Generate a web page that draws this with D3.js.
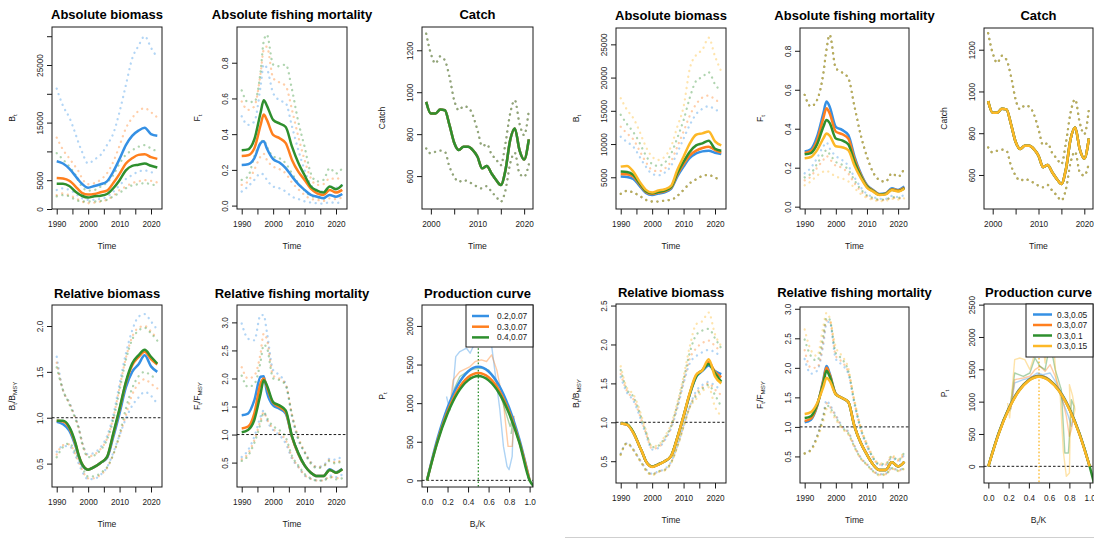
<!DOCTYPE html>
<html><head><meta charset="utf-8">
<script src="https://cdn.jsdelivr.net/npm/d3@7"></script>
<style>body{margin:0;background:#fff}svg{display:block;font-family:"Liberation Sans",Arial,Helvetica,sans-serif}</style>
</head><body><svg id="c" width="1094" height="538"></svg>
<script>
// ---------------- DATA ----------------
const years = [1990,1992,1994,1996,1997,1998,2000,2002,2004,2006,2008,2010,2012,2014,2016,2018,2020,2022];
const catchYears = [1999,2000,2001,2002,2003,2004,2005,2006,2007,2008,2009,2010,2011,2012,2013,2014,2015,2016,2017,2018,2019,2020,2021];
const bk = [0,0.1,0.2,0.3,0.4,0.5,0.6,0.7,0.8,0.9,1.0];
const bkG = [0,0.1,0.2,0.3,0.4,0.5,0.6,0.7,0.8,0.9,1.0,1.05];

const legendLeft = ["0.2,0.07","0.3,0.07","0.4,0.07"];
const legendRight = ["0.3,0.05","0.3,0.07","0.3,0.1","0.3,0.15"];

const timeTicks = [1990,1995,2000,2005,2010,2015,2020];
const timeLabels = [1990,2000,2010,2020];
const catchTicks = [2000,2005,2010,2015,2020];
const catchLabels = [2000,2010,2020];
const bkTicks = [0,0.2,0.4,0.6,0.8,1.0];

// Left group — absolute biomass
const BL_b_mid = [8300,7900,7000,5700,5000,4400,3700,4000,4300,4800,6500,8700,11100,12700,13600,14100,13000,12700];
const BL_b_hi  = [20900,17900,15900,13000,11400,10000,7900,8600,9400,11100,13100,16900,21500,26100,28300,30000,28000,26300];
const BL_b_lo  = [3300,3600,3300,2700,2200,1900,1600,1600,1800,2100,3000,4100,5200,5900,6500,6700,6400,6200];
const BL_o_mid = [5400,5300,4900,3900,3300,2800,2500,2600,2900,3200,4500,6100,7900,8800,9400,9500,9000,8700];
const BL_o_hi  = [12400,10300,8800,7300,6500,5400,4300,4500,5100,6200,8200,11000,14000,15800,17000,17500,16800,15900];
const BL_o_lo  = [2400,2700,2400,1900,1600,1300,1000,1100,1300,1600,2300,3300,3900,4500,4800,5000,4900,4600];
const BL_g_mid = [4400,4400,4000,3000,2600,2300,2000,2200,2300,2600,3600,5000,6700,7500,7700,7900,7500,7200];
const BL_g_hi  = [9700,8600,7400,5900,4900,3900,3200,3300,3900,4600,5900,7900,9400,10200,10800,11100,10500,10000];
const BL_g_lo  = [2200,2400,2200,1600,1400,1300,1300,1300,1400,1600,2200,2800,3600,4100,4300,4500,4300,4000];

// Left group — absolute fishing mortality
const FL_b_mid = [.228,.232,.265,.35,.36,.32,.26,.241,.21,.163,.12,.088,.06,.05,.041,.06,.05,.065];
const FL_b_hi  = [.5,.452,.47,.667,.79,.77,.63,.59,.574,.443,.312,.2,.116,.088,.079,.107,.1,.116];
const FL_b_lo  = [.079,.107,.144,.18,.172,.144,.107,.097,.079,.05,.037,.024,.017,.013,.011,.019,.015,.02];
const FL_o_mid = [.278,.282,.32,.45,.51,.48,.396,.378,.35,.256,.19,.144,.095,.069,.06,.088,.073,.088];
const FL_o_hi  = [.583,.536,.555,.74,.873,.89,.714,.69,.67,.536,.387,.256,.153,.116,.12,.153,.148,.172];
const FL_o_lo  = [.116,.135,.2,.275,.29,.256,.219,.204,.18,.129,.092,.06,.037,.032,.026,.041,.036,.047];
const FL_g_mid = [.31,.315,.37,.52,.59,.56,.48,.46,.44,.33,.24,.17,.107,.084,.073,.107,.092,.116];
const FL_g_hi  = [.645,.58,.58,.75,.92,.957,.79,.78,.79,.65,.47,.33,.18,.135,.144,.21,.18,.21];
const FL_g_lo  = [.144,.163,.275,.35,.368,.33,.275,.265,.237,.18,.125,.084,.054,.047,.039,.06,.05,.069];

// Catch (observed, shared by all runs)
const catchMid = [954,898,898,917,914,843,759,724,740,740,724,692,637,648,613,581,557,629,771,827,724,679,775];
const catchHi  = [1279,1184,1137,1171,1152,1073,962,914,933,927,890,819,743,752,705,679,652,756,898,962,851,795,914];
const catchLo  = [732,708,716,721,716,644,597,573,581,573,562,549,541,552,525,502,478,533,660,711,613,597,656];

// Left group — relative biomass
const RBL_b_mid = [.955,.93,.86,.69,.58,.49,.434,.464,.51,.56,.79,1.05,1.33,1.5,1.58,1.68,1.56,1.5];
const RBL_b_hi  = [1.665,1.3,1.17,1.0,.9,.75,.6,.62,.68,.8,1.03,1.37,1.7,1.95,2.1,2.13,2.05,1.96];
const RBL_b_lo  = [.63,.69,.69,.58,.5,.42,.33,.335,.38,.46,.62,.81,.99,1.13,1.22,1.28,1.24,1.15];
const RBL_o_mid = [.966,.96,.89,.71,.59,.5,.434,.464,.51,.57,.82,1.09,1.38,1.57,1.66,1.72,1.64,1.58];
const RBL_o_hi  = [1.6,1.3,1.16,.99,.89,.74,.58,.6,.66,.77,1.0,1.33,1.65,1.88,1.98,2.0,1.94,1.86];
const RBL_o_lo  = [.6,.7,.71,.6,.52,.44,.34,.34,.38,.45,.6,.8,1.03,1.25,1.37,1.42,1.37,1.32];
const RBL_g_mid = [.966,.966,.9,.72,.59,.5,.434,.464,.51,.573,.83,1.1,1.39,1.59,1.68,1.74,1.665,1.59];
const RBL_g_hi  = [1.55,1.3,1.15,.98,.88,.73,.57,.59,.65,.76,.98,1.3,1.63,1.85,1.95,1.98,1.92,1.84];
const RBL_g_lo  = [.57,.68,.72,.62,.55,.47,.36,.36,.4,.46,.6,.82,1.1,1.32,1.45,1.5,1.46,1.42];

// Left group — relative fishing mortality
const RFL_b_mid = [1.345,1.375,1.61,2.03,2.04,1.76,1.52,1.46,1.375,.96,.66,.45,.32,.26,.26,.38,.33,.39];
const RFL_b_hi  = [2.98,2.71,2.68,3.13,3.13,2.83,2.15,2.06,1.9,1.32,.9,.69,.51,.42,.45,.57,.55,.63];
const RFL_b_lo  = [.6,.72,.96,1.32,1.43,1.26,1.08,.99,.84,.57,.42,.27,.21,.18,.18,.27,.24,.29];
const RFL_o_mid = [1.11,1.14,1.375,1.91,2.0,1.85,1.565,1.49,1.4,.96,.66,.45,.32,.26,.26,.37,.32,.38];
const RFL_o_hi  = [2.2,2.0,2.05,2.45,2.8,2.7,2.05,2.0,1.9,1.35,.95,.7,.5,.42,.44,.55,.5,.57];
const RFL_o_lo  = [.56,.66,.9,1.25,1.4,1.28,1.1,1.02,.9,.6,.43,.28,.21,.18,.18,.25,.22,.25];
const RFL_g_mid = [1.04,1.08,1.26,1.73,1.97,1.88,1.58,1.52,1.43,.97,.67,.45,.32,.26,.26,.37,.32,.38];
const RFL_g_hi  = [2.05,1.85,1.9,2.3,2.6,2.55,2.0,1.97,1.88,1.35,.93,.68,.48,.4,.43,.53,.48,.55];
const RFL_g_lo  = [.53,.62,.85,1.2,1.4,1.3,1.15,1.08,.95,.62,.45,.3,.22,.18,.18,.24,.2,.22];

// Left group — production curves
const PL_b = [0,530,940,1235,1410,1470,1410,1235,940,530,0];
const PL_o = [0,500,890,1170,1335,1390,1335,1170,890,500,0];
const PL_g = [0,490,865,1135,1295,1350,1295,1135,865,490,0,-90];
const PLraw_b = [[0.19,1086],[0.22,914],[0.25,1150],[0.28,1603],[0.32,1668],[0.385,1711],[0.42,1647],[0.45,1733],[0.5,1776],[0.53,1754],[0.565,2078],[0.58,2170],[0.61,1948],[0.66,1431],[0.71,914],[0.745,440],[0.78,181],[0.8,138],[0.83,310],[0.84,698],[0.85,800]];
const PLraw_o = [[0.22,950],[0.255,1301],[0.32,1409],[0.42,1474],[0.47,1539],[0.53,1560],[0.58,1539],[0.63,1625],[0.68,1431],[0.745,1000],[0.79,440],[0.83,440],[0.85,828],[0.83,700]];
const PLraw_g = [[0.22,900],[0.27,1200],[0.32,1345],[0.42,1431],[0.52,1453],[0.6,1431],[0.68,1259],[0.76,914],[0.81,698],[0.84,828],[0.82,600]];

// Right group — absolute biomass
const BR_b_mid = [5100,5050,4750,3700,3150,2650,2350,2550,2750,3250,5100,6600,7900,8600,8900,9000,8700,8500];
const BR_o_mid = [5500,5450,5100,3950,3350,2800,2500,2700,2900,3400,5400,7000,8300,9000,9400,9600,9100,8700];
const BR_g_mid = [5850,5800,5350,4100,3500,2900,2600,2800,3000,3500,5600,7350,8850,9800,10100,10500,9300,9000];
const BR_y_mid = [6600,6700,5850,4350,3700,3100,2700,3000,3200,3700,6100,8100,10100,11400,11600,11900,10400,9800];
const BR_b_hi  = [11100,10300,9600,8100,7300,6600,5500,5300,5700,6700,8700,10800,12900,14500,15300,15700,15200,14800];
const BR_o_hi  = [12600,11600,10700,9000,8100,7300,6100,5900,6300,7400,9600,11900,14300,16000,17000,17300,16700,16100];
const BR_g_hi  = [14400,13000,11800,10200,9200,8300,7000,6700,7200,8500,10900,13600,17000,19500,20100,20800,19000,17900];
const BR_y_hi  = [16900,15150,13900,11900,10700,9600,8100,7600,8100,9600,12600,15600,21400,23400,24200,26000,23200,20900];
const BR_lo    = [2500,2950,2700,2200,1900,1600,1350,1350,1500,1600,2200,3100,4100,4700,5200,5350,4950,4600];

// Right group — absolute fishing mortality
const FR_b_mid = [.283,.295,.36,.48,.54,.514,.41,.394,.368,.257,.171,.111,.086,.065,.069,.094,.086,.103];
const FR_o_mid = [.275,.285,.34,.455,.505,.48,.385,.372,.35,.245,.165,.107,.083,.063,.067,.09,.083,.098];
const FR_g_mid = [.269,.275,.32,.41,.445,.43,.35,.34,.32,.23,.157,.103,.08,.061,.065,.087,.08,.095];
const FR_y_mid = [.248,.255,.29,.35,.375,.365,.31,.305,.29,.21,.148,.098,.077,.06,.063,.085,.078,.092];
const FR_hi    = [.574,.514,.548,.685,.805,.882,.711,.689,.66,.514,.368,.257,.175,.137,.128,.171,.154,.197];
const FR_b_lo  = [.171,.2,.25,.31,.33,.3,.26,.24,.21,.15,.1,.065,.05,.04,.04,.055,.05,.06];
const FR_o_lo  = [.135,.155,.2,.24,.26,.245,.21,.2,.17,.12,.08,.053,.04,.033,.034,.046,.042,.05];
const FR_g_lo  = [.15,.17,.22,.27,.29,.27,.23,.215,.19,.135,.09,.058,.045,.036,.037,.05,.045,.055];
const FR_y_lo  = [.11,.13,.16,.18,.185,.175,.155,.145,.13,.095,.065,.045,.035,.028,.03,.04,.036,.043];

// Right group — relative biomass
const RBR_b_mid = [.984,.97,.865,.69,.6,.5,.43,.46,.5,.565,.8,1.07,1.36,1.58,1.66,1.73,1.66,1.62];
const RBR_o_mid = [.984,.97,.87,.69,.6,.5,.43,.46,.5,.565,.8,1.08,1.37,1.6,1.67,1.77,1.65,1.58];
const RBR_g_mid = [.984,.975,.875,.69,.6,.5,.43,.46,.5,.565,.8,1.08,1.37,1.59,1.67,1.75,1.63,1.52];
const RBR_y_mid = [.984,.97,.864,.69,.6,.5,.427,.457,.5,.564,.8,1.08,1.38,1.61,1.67,1.81,1.59,1.5];
const RBR_b_hi  = [1.58,1.38,1.28,1.08,.96,.85,.65,.67,.77,.92,1.18,1.5,1.76,1.85,1.9,1.93,1.9,1.84];
const RBR_o_hi  = [1.62,1.4,1.3,1.1,.98,.86,.66,.68,.78,.93,1.2,1.52,1.82,1.95,2.02,2.05,1.98,1.9];
const RBR_g_hi  = [1.67,1.42,1.33,1.13,1.0,.88,.68,.7,.8,.95,1.22,1.55,1.9,2.12,2.18,2.2,2.08,1.95];
const RBR_y_hi  = [1.72,1.44,1.36,1.16,1.03,.9,.69,.71,.82,.97,1.25,1.59,1.98,2.26,2.3,2.41,2.13,1.98];
const RBR_b_lo  = [.6,.73,.65,.52,.46,.4,.34,.37,.4,.49,.7,.96,1.21,1.4,1.48,1.52,1.47,1.42];
const RBR_o_lo  = [.59,.73,.65,.52,.46,.39,.33,.37,.39,.48,.69,.95,1.2,1.37,1.45,1.5,1.42,1.35];
const RBR_g_lo  = [.585,.735,.65,.52,.455,.39,.33,.37,.39,.48,.69,.95,1.2,1.34,1.43,1.48,1.35,1.2];
const RBR_y_lo  = [.58,.73,.64,.51,.45,.38,.32,.36,.38,.47,.68,.94,1.19,1.3,1.4,1.45,1.2,1.08];

// Right group — relative fishing mortality
const RFR_b_mid = [1.077,1.12,1.35,1.8,2.03,1.91,1.56,1.49,1.42,1.01,.73,.53,.36,.27,.27,.4,.33,.41];
const RFR_o_mid = [1.1,1.14,1.36,1.78,2.0,1.89,1.56,1.49,1.42,1.01,.73,.53,.36,.27,.27,.4,.33,.41];
const RFR_g_mid = [1.15,1.18,1.38,1.74,1.95,1.86,1.55,1.49,1.42,1.01,.73,.53,.36,.27,.27,.4,.33,.41];
const RFR_y_mid = [1.22,1.25,1.4,1.68,1.83,1.78,1.55,1.49,1.42,1.01,.73,.53,.36,.27,.27,.4,.33,.41];
const RFR_b_hi  = [2.15,1.9,1.95,2.4,2.75,2.78,2.15,2.05,1.9,1.38,.95,.67,.46,.35,.35,.48,.42,.53];
const RFR_o_hi  = [2.3,2.0,2.0,2.45,2.8,2.8,2.2,2.1,1.92,1.4,.97,.68,.47,.36,.36,.49,.43,.55];
const RFR_g_hi  = [2.48,2.2,2.12,2.55,2.85,2.82,2.25,2.15,1.95,1.42,.98,.7,.48,.37,.37,.5,.44,.57];
const RFR_y_hi  = [2.65,2.3,2.2,2.7,2.93,2.85,2.35,2.2,2.0,1.45,1.0,.72,.5,.38,.38,.52,.45,.6];
const RFR_b_lo  = [.55,.62,.85,1.2,1.45,1.38,1.2,1.02,.92,.68,.48,.37,.26,.2,.21,.31,.27,.31];
const RFR_o_lo  = [.55,.61,.84,1.18,1.4,1.35,1.18,1.0,.9,.67,.47,.36,.25,.19,.2,.3,.26,.3];
const RFR_g_lo  = [.55,.61,.83,1.16,1.37,1.33,1.16,.99,.89,.66,.47,.36,.25,.19,.2,.3,.26,.3];
const RFR_y_lo  = [.55,.6,.8,1.1,1.3,1.27,1.12,.97,.87,.65,.46,.35,.24,.18,.19,.29,.25,.29];

// Right group — production curves
const PR_b = [0,505,895,1175,1340,1400,1340,1175,895,505,0];
const PR_o = [0,500,890,1170,1335,1395,1335,1170,890,500,0];
const PR_g = [0,500,885,1165,1330,1390,1330,1165,885,500,0,-300];
const PR_y = [0,495,880,1160,1325,1385,1325,1160,880,495,0];
const PRraw_b = [[0.22,880],[0.26,1289],[0.345,1340],[0.41,1366],[0.48,1443],[0.54,1418],[0.61,1443],[0.67,1289],[0.74,979],[0.79,773],[0.82,619],[0.84,825]];
const PRraw_o = [[0.22,880],[0.26,1340],[0.345,1366],[0.41,1392],[0.46,1495],[0.51,1546],[0.56,1469],[0.61,1572],[0.66,1392],[0.72,1108],[0.77,773],[0.8,464],[0.82,567],[0.84,773]];
const PRraw_g = [[0.21,850],[0.26,1443],[0.345,1392],[0.41,1443],[0.46,1675],[0.51,1546],[0.56,1495],[0.61,1907],[0.66,1495],[0.72,1186],[0.755,206],[0.79,206],[0.805,567],[0.82,1031],[0.845,928],[0.83,750]];
const PRraw_y = [[0.19,979],[0.21,750],[0.23,1100],[0.26,1649],[0.31,1675],[0.36,1649],[0.41,1495],[0.44,1649],[0.48,1856],[0.53,2010],[0.56,1598],[0.6,2371],[0.625,2320],[0.67,1340],[0.71,1082],[0.74,232],[0.77,-155],[0.8,-103],[0.81,773],[0.8,1263],[0.83,1100],[0.855,876],[0.83,670]];

// ---------------- DRAWING ----------------
const COL = {b:'#3590E4', o:'#FF7F1E', g:'#2E8F2E', y:'#FDB827'};
const svg = d3.select('#c');
const INK = '#1a1a1a';
let clipN = 0;

function rich(textSel, parts, size) {
  parts.forEach((p, i) => {
    const t = textSel.append('tspan').text(p[0]);
    if (p[1]) { t.attr('font-size', size*0.72).attr('dy', size*0.28); }
    else if (i > 0 && parts[i-1][1]) { t.attr('dy', -size*0.28); }
  });
}

function drawPanel(p) {
  const [L, T, R, B] = p.box;
  const x = d3.scaleLinear().domain(p.xd).range([L, R]);
  const y = d3.scaleLinear().domain(p.yd).range([B, T]);
  const id = 'clip' + (clipN++);
  svg.append('clipPath').attr('id', id).append('rect')
    .attr('x', L).attr('y', T).attr('width', R-L).attr('height', B-T);
  const plot = svg.append('g').attr('clip-path', `url(#${id})`);

  (p.hline || []).forEach(v => plot.append('line').attr('x1', L).attr('x2', R)
    .attr('y1', y(v)).attr('y2', y(v)).attr('stroke', INK).attr('stroke-width', 1)
    .attr('stroke-dasharray', '2.6,2'));
  (p.vline || []).forEach(v => plot.append('line').attr('x1', x(v.x)).attr('x2', x(v.x))
    .attr('y1', T).attr('y2', B).attr('stroke', v.col).attr('stroke-width', 1.3)
    .attr('stroke-dasharray', '1.6,2'));

  const lineTS = (xs) => d3.line().x((d,i)=>x(xs[i])).y(d=>y(d)).curve(d3.curveMonotoneX);
  const linePair = d3.line().x(d=>x(d[0])).y(d=>y(d[1])).curve(d3.curveLinear);

  (p.ci || []).forEach(s => plot.append('path').datum(s.v).attr('d', lineTS(s.x))
    .attr('fill','none').attr('stroke', COL[s.c]).attr('stroke-opacity', 0.38)
    .attr('stroke-width', 2.3).attr('stroke-linecap','round').attr('stroke-dasharray','0.1,5.6'));
  (p.raw || []).forEach(s => plot.append('path').datum(s.v).attr('d', linePair)
    .attr('fill','none').attr('stroke', COL[s.c]).attr('stroke-opacity', 0.4)
    .attr('stroke-width', 1.4).attr('stroke-linejoin','round'));
  (p.mid || []).forEach(s => plot.append('path').datum(s.v).attr('d', lineTS(s.x))
    .attr('fill','none').attr('stroke', COL[s.c]).attr('stroke-width', 2.5)
    .attr('stroke-linejoin','round'));

  svg.append('rect').attr('x', L).attr('y', T).attr('width', R-L).attr('height', B-T)
    .attr('fill','none').attr('stroke', INK).attr('stroke-width', 1);

  const gx = svg.append('g').attr('transform', `translate(0,${B})`)
    .call(d3.axisBottom(x).tickValues(p.xt).tickSize(5.5).tickSizeOuter(0)
      .tickFormat(v => p.xl.includes(v) ? p.xf(v) : ''));
  gx.select('.domain').remove();
  gx.selectAll('line').attr('stroke', INK);
  gx.selectAll('text').attr('y', 17.5).attr('dy', 0).attr('font-size', 8.2).attr('fill', INK);
  gx.attr('font-family', null);

  const gy = svg.append('g').attr('transform', `translate(${L},0)`)
    .call(d3.axisLeft(y).tickValues(p.yt).tickSize(5).tickSizeOuter(0)
      .tickFormat(v => p.yl.includes(v) ? p.yf(v) : ''));
  gy.select('.domain').remove();
  gy.selectAll('line').attr('stroke', INK);
  gy.selectAll('text').attr('transform','rotate(-90)').attr('text-anchor','middle')
    .attr('x', 0).attr('y', -9.5).attr('dy', 0).attr('font-size', 8.2).attr('fill', INK);
  gy.attr('font-family', null);

  svg.append('text').attr('x', (L+R)/2).attr('y', p.ty).attr('text-anchor','middle')
    .attr('font-size', 13).attr('font-weight','bold').attr('fill','#000').text(p.title);
  const xt = svg.append('text').attr('x', (L+R)/2).attr('y', B + 40).attr('text-anchor','middle')
    .attr('font-size', 8.6).attr('fill', INK);
  rich(xt, p.xtitle, 8.6);
  const yt = svg.append('text').attr('transform', `translate(${L-37},${(T+B)/2}) rotate(-90)`)
    .attr('text-anchor','middle').attr('font-size', 8.6).attr('fill', INK);
  rich(yt, p.ytitle, 8.6);

  if (p.legend) {
    const lg = p.legend;
    svg.append('rect').attr('x', lg.x0).attr('y', T).attr('width', R - lg.x0).attr('height', lg.y1 - T)
      .attr('fill','#fff').attr('stroke', INK).attr('stroke-width', 1);
    lg.labels.forEach((lab, i) => {
      const yy = lg.r0 + i*lg.dy;
      svg.append('line').attr('x1', lg.l0).attr('x2', lg.l1).attr('y1', yy).attr('y2', yy)
        .attr('stroke', COL[lg.cols[i]]).attr('stroke-width', 2.5);
      svg.append('text').attr('x', lg.tx).attr('y', yy + 3).attr('font-size', 8.4)
        .attr('fill', INK).text(lab);
    });
  }
}

const fInt = d => String(d);
const f1 = d3.format('.1f');
const TSX = [1988.5, 2023.5];
const CX = [1998.1, 2021.9];
const tTime = [['Time']];

const ci3 = (b,o,g) => [{c:'b',x:years,v:b[0]},{c:'b',x:years,v:b[1]},{c:'o',x:years,v:o[0]},{c:'o',x:years,v:o[1]},{c:'g',x:years,v:g[0]},{c:'g',x:years,v:g[1]}];

const panels = [
  {box:[52,27,162,209], xd:TSX, yd:[0,31600], title:'Absolute biomass', ty:18.5,
   xt:timeTicks, xl:timeLabels, xf:fInt, yt:[0,5000,10000,15000,20000,25000,30000], yl:[0,5000,15000,25000], yf:fInt,
   xtitle:tTime, ytitle:[['B'],['t',1]],
   ci: ci3([BL_b_hi,BL_b_lo],[BL_o_hi,BL_o_lo],[BL_g_hi,BL_g_lo]),
   mid:[{c:'b',x:years,v:BL_b_mid},{c:'o',x:years,v:BL_o_mid},{c:'g',x:years,v:BL_g_mid}]},
  {box:[237,27,347,209], xd:TSX, yd:[-0.019,1.0], title:'Absolute fishing mortality', ty:18.5,
   xt:timeTicks, xl:timeLabels, xf:fInt, yt:[0,0.2,0.4,0.6,0.8], yl:[0,0.2,0.4,0.6,0.8], yf:f1,
   xtitle:tTime, ytitle:[['F'],['t',1]],
   ci: ci3([FL_b_hi,FL_b_lo],[FL_o_hi,FL_o_lo],[FL_g_hi,FL_g_lo]),
   mid:[{c:'b',x:years,v:FL_b_mid},{c:'o',x:years,v:FL_o_mid},{c:'g',x:years,v:FL_g_mid}]},
  {box:[422,27,533,209], xd:CX, yd:[443,1311], title:'Catch', ty:18.5,
   xt:catchTicks, xl:catchLabels, xf:fInt, yt:[600,800,1000,1200], yl:[600,800,1000,1200], yf:fInt,
   xtitle:tTime, ytitle:[['Catch']],
   ci:[{c:'b',x:catchYears,v:catchHi},{c:'o',x:catchYears,v:catchHi},{c:'g',x:catchYears,v:catchHi},
       {c:'b',x:catchYears,v:catchLo},{c:'o',x:catchYears,v:catchLo},{c:'g',x:catchYears,v:catchLo}],
   mid:[{c:'b',x:catchYears,v:catchMid},{c:'o',x:catchYears,v:catchMid},{c:'g',x:catchYears,v:catchMid}]},
  {box:[52,305,162,487], xd:TSX, yd:[0.245,2.229], title:'Relative biomass', ty:297.5,
   xt:timeTicks, xl:timeLabels, xf:fInt, yt:[0.5,1.0,1.5,2.0], yl:[0.5,1.0,1.5,2.0], yf:f1,
   xtitle:tTime, ytitle:[['B'],['t',1],['/B'],['MSY',1]], hline:[1.0],
   ci: ci3([RBL_b_hi,RBL_b_lo],[RBL_o_hi,RBL_o_lo],[RBL_g_hi,RBL_g_lo]),
   mid:[{c:'b',x:years,v:RBL_b_mid},{c:'o',x:years,v:RBL_o_mid},{c:'g',x:years,v:RBL_g_mid}]},
  {box:[237,305,347,487], xd:TSX, yd:[0.065,3.31], title:'Relative fishing mortality', ty:297.5,
   xt:timeTicks, xl:timeLabels, xf:fInt, yt:[0.5,1.0,1.5,2.0,2.5,3.0], yl:[0.5,1.0,1.5,2.0,2.5,3.0], yf:f1,
   xtitle:tTime, ytitle:[['F'],['t',1],['/F'],['MSY',1]], hline:[1.0],
   ci: ci3([RFL_b_hi,RFL_b_lo],[RFL_o_hi,RFL_o_lo],[RFL_g_hi,RFL_g_lo]),
   mid:[{c:'b',x:years,v:RFL_b_mid},{c:'o',x:years,v:RFL_o_mid},{c:'g',x:years,v:RFL_g_mid}]},
  {box:[422,305,533,487], xd:[-0.049,1.033], yd:[-86,2271], title:'Production curve', ty:297.5,
   xt:bkTicks, xl:bkTicks, xf:f1, yt:[0,500,1000,1500,2000], yl:[0,500,1000,1500,2000], yf:fInt,
   xtitle:[['B'],['t',1],['/K']], ytitle:[['P'],['t',1]], hline:[0], vline:[{x:0.5,col:COL.g}],
   raw:[{c:'b',v:PLraw_b},{c:'o',v:PLraw_o},{c:'g',v:PLraw_g}],
   mid:[{c:'b',x:bk,v:PL_b},{c:'o',x:bk,v:PL_o},{c:'g',x:bkG,v:PL_g}],
   legend:{x0:466, y1:347, l0:472, l1:489, tx:497, r0:316, dy:10.7, labels:legendLeft, cols:['b','o','g']}},
  {box:[616,28,726,209], xd:TSX, yd:[226,27460], title:'Absolute biomass', ty:19.5,
   xt:timeTicks, xl:timeLabels, xf:fInt, yt:[5000,10000,15000,20000,25000], yl:[5000,10000,15000,20000,25000], yf:fInt,
   xtitle:tTime, ytitle:[['B'],['t',1]],
   ci:[{c:'b',x:years,v:BR_b_hi},{c:'o',x:years,v:BR_o_hi},{c:'g',x:years,v:BR_g_hi},{c:'y',x:years,v:BR_y_hi},
       {c:'b',x:years,v:BR_lo},{c:'o',x:years,v:BR_lo},{c:'g',x:years,v:BR_lo},{c:'y',x:years,v:BR_lo}],
   mid:[{c:'b',x:years,v:BR_b_mid},{c:'o',x:years,v:BR_o_mid},{c:'g',x:years,v:BR_g_mid},{c:'y',x:years,v:BR_y_mid}]},
  {box:[800,28,909,209], xd:TSX, yd:[-0.012,0.917], title:'Absolute fishing mortality', ty:19.5,
   xt:timeTicks, xl:timeLabels, xf:fInt, yt:[0,0.2,0.4,0.6,0.8], yl:[0,0.2,0.4,0.6,0.8], yf:f1,
   xtitle:tTime, ytitle:[['F'],['t',1]],
   ci:[{c:'b',x:years,v:FR_hi},{c:'o',x:years,v:FR_hi},{c:'g',x:years,v:FR_hi},{c:'y',x:years,v:FR_hi},
       {c:'b',x:years,v:FR_b_lo},{c:'o',x:years,v:FR_o_lo},{c:'g',x:years,v:FR_g_lo},{c:'y',x:years,v:FR_y_lo}],
   mid:[{c:'b',x:years,v:FR_b_mid},{c:'o',x:years,v:FR_o_mid},{c:'g',x:years,v:FR_g_mid},{c:'y',x:years,v:FR_y_mid}]},
  {box:[984,28,1093,209], xd:CX, yd:[437,1304], title:'Catch', ty:19.5,
   xt:catchTicks, xl:catchLabels, xf:fInt, yt:[600,800,1000,1200], yl:[600,800,1000,1200], yf:fInt,
   xtitle:tTime, ytitle:[['Catch']],
   ci:[{c:'b',x:catchYears,v:catchHi},{c:'o',x:catchYears,v:catchHi},{c:'g',x:catchYears,v:catchHi},{c:'y',x:catchYears,v:catchHi},
       {c:'b',x:catchYears,v:catchLo},{c:'o',x:catchYears,v:catchLo},{c:'g',x:catchYears,v:catchLo},{c:'y',x:catchYears,v:catchLo}],
   mid:[{c:'b',x:catchYears,v:catchMid},{c:'o',x:catchYears,v:catchMid},{c:'g',x:catchYears,v:catchMid},{c:'y',x:catchYears,v:catchMid}]},
  {box:[616,304,726,483], xd:TSX, yd:[0.22,2.52], title:'Relative biomass', ty:296.5,
   xt:timeTicks, xl:timeLabels, xf:fInt, yt:[0.5,1.0,1.5,2.0,2.5], yl:[0.5,1.0,1.5,2.0,2.5], yf:f1,
   xtitle:tTime, ytitle:[['B'],['t',1],['/B'],['MSY',1]], hline:[1.0],
   ci:[{c:'b',x:years,v:RBR_b_hi},{c:'o',x:years,v:RBR_o_hi},{c:'g',x:years,v:RBR_g_hi},{c:'y',x:years,v:RBR_y_hi},
       {c:'b',x:years,v:RBR_b_lo},{c:'o',x:years,v:RBR_o_lo},{c:'g',x:years,v:RBR_g_lo},{c:'y',x:years,v:RBR_y_lo}],
   mid:[{c:'b',x:years,v:RBR_b_mid},{c:'o',x:years,v:RBR_o_mid},{c:'g',x:years,v:RBR_g_mid},{c:'y',x:years,v:RBR_y_mid}]},
  {box:[800,307,909,483], xd:TSX, yd:[0.05,3.03], title:'Relative fishing mortality', ty:296.5,
   xt:timeTicks, xl:timeLabels, xf:fInt, yt:[0.5,1.0,1.5,2.0,2.5,3.0], yl:[0.5,1.0,1.5,2.0,2.5,3.0], yf:f1,
   xtitle:tTime, ytitle:[['F'],['t',1],['/F'],['MSY',1]], hline:[1.0],
   ci:[{c:'b',x:years,v:RFR_b_hi},{c:'o',x:years,v:RFR_o_hi},{c:'g',x:years,v:RFR_g_hi},{c:'y',x:years,v:RFR_y_hi},
       {c:'b',x:years,v:RFR_b_lo},{c:'o',x:years,v:RFR_o_lo},{c:'g',x:years,v:RFR_g_lo},{c:'y',x:years,v:RFR_y_lo}],
   mid:[{c:'b',x:years,v:RFR_b_mid},{c:'o',x:years,v:RFR_o_mid},{c:'g',x:years,v:RFR_g_mid},{c:'y',x:years,v:RFR_y_mid}]},
  {box:[984,304,1093,483], xd:[-0.043,1.033], yd:[-258,2510], title:'Production curve', ty:296.5,
   xt:bkTicks, xl:bkTicks, xf:f1, yt:[0,500,1000,1500,2000,2500], yl:[0,500,1000,1500,2000,2500], yf:fInt,
   xtitle:[['B'],['t',1],['/K']], ytitle:[['P'],['t',1]], hline:[0], vline:[{x:0.5,col:COL.y}],
   raw:[{c:'b',v:PRraw_b},{c:'o',v:PRraw_o},{c:'g',v:PRraw_g},{c:'y',v:PRraw_y}],
   mid:[{c:'b',x:bk,v:PR_b},{c:'o',x:bk,v:PR_o},{c:'g',x:bkG,v:PR_g},{c:'y',x:bk,v:PR_y}],
   legend:{x0:1026, y1:357, l0:1033, l1:1052, tx:1057, r0:314.5, dy:10.5, labels:legendRight, cols:['b','o','g','y']}}
];

panels.forEach(drawPanel);

svg.append('line').attr('x1', 565).attr('x2', 1094).attr('y1', 537.5).attr('y2', 537.5)
  .attr('stroke', '#cfcfcf').attr('stroke-width', 1);
</script>
</body></html>
